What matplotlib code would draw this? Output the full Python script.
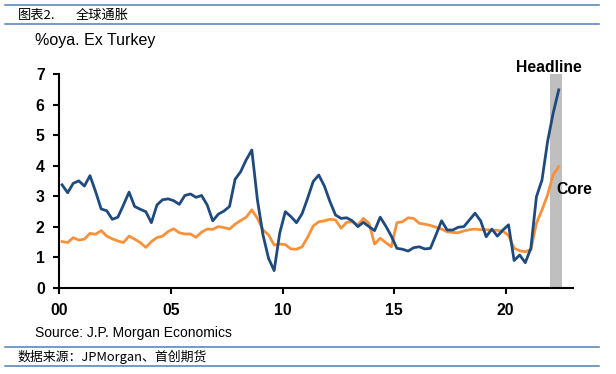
import numpy as np
import pandas as pd
import matplotlib
matplotlib.use("Agg")
import matplotlib.pyplot as plt
from matplotlib.lines import Line2D

# global inflation, %oya ex Turkey, quarterly 2000Q1 - 2022Q2
quarters = pd.period_range("2000Q1", "2022Q2", freq="Q")
headline = [3.38, 3.12, 3.43, 3.51, 3.34, 3.68, 3.16, 2.59, 2.53, 2.25,
            2.32, 2.72, 3.14, 2.67, 2.58, 2.50, 2.14, 2.72, 2.89, 2.92,
            2.86, 2.74, 3.03, 3.08, 2.97, 3.03, 2.72, 2.20, 2.42, 2.52,
            2.67, 3.56, 3.81, 4.20, 4.52, 2.89, 1.74, 0.97, 0.57, 1.80,
            2.50, 2.34, 2.14, 2.43, 2.94, 3.49, 3.70, 3.34, 2.83, 2.39,
            2.28, 2.30, 2.20, 2.01, 2.15, 2.01, 1.88, 2.32, 2.03, 1.70,
            1.30, 1.27, 1.21, 1.32, 1.35, 1.28, 1.30, 1.74, 2.20, 1.90,
            1.90, 1.99, 2.01, 2.23, 2.45, 2.20, 1.68, 1.93, 1.70, 1.90,
            2.07, 0.90, 1.08, 0.83, 1.30, 2.99, 3.54, 4.80, 5.73, 6.49]
core = [1.52, 1.49, 1.65, 1.57, 1.60, 1.79, 1.76, 1.88, 1.70, 1.61,
        1.54, 1.49, 1.70, 1.60, 1.49, 1.33, 1.52, 1.65, 1.70, 1.85,
        1.94, 1.81, 1.77, 1.77, 1.66, 1.83, 1.93, 1.92, 2.01, 1.98,
        1.93, 2.09, 2.21, 2.32, 2.56, 2.28, 1.90, 1.74, 1.41, 1.44,
        1.42, 1.28, 1.27, 1.35, 1.66, 2.03, 2.17, 2.20, 2.25, 2.23,
        1.96, 2.15, 2.17, 2.07, 2.28, 2.12, 1.44, 1.63, 1.49, 1.35,
        2.14, 2.17, 2.30, 2.28, 2.12, 2.09, 2.05, 1.99, 1.93, 1.84,
        1.82, 1.81, 1.87, 1.91, 1.93, 1.91, 1.91, 1.89, 1.89, 1.86,
        1.72, 1.30, 1.22, 1.19, 1.25, 2.12, 2.56, 3.05, 3.70, 3.98]
xticks = [0, 5, 10, 15, 20]
xtick_labels = ["00", "05", "10", "15", "20"]
band = (22.0, 22.5)  # shaded forecast period

x = (quarters.year - 2000) + (quarters.quarter - 1) / 4 + 0.125

W, H = 616, 374
fig = plt.figure(figsize=(W / 100, H / 100), dpi=100)
cjk = ["Noto Sans CJK SC", "DejaVu Sans"]
sans = ["Liberation Sans", "DejaVu Sans"]


def px(xp, yp):  # pixel coords -> figure fraction
    return xp / W, 1 - yp / H


# frame lines of the report template
rule_col = "#4F7FBA"
for yp in [5, 24, 346.5, 365.5]:
    fig.add_artist(Line2D([5 / W, 599 / W], [1 - yp / H] * 2, color=rule_col, lw=1.1))

fig.text(*px(18, 15), "图表2.", family=cjk, fontsize=9.5, va="center", ha="left")
fig.text(*px(76, 15), "全球通胀", family=cjk, fontsize=9.5, va="center", ha="left")
fig.text(*px(35, 40), "%oya. Ex Turkey", family=sans, fontsize=11.5, va="center", ha="left")
fig.text(*px(35, 333), "Source: J.P. Morgan Economics", family=sans, fontsize=10,
         va="center", ha="left")
fig.text(*px(17, 357), "数据来源：JPMorgan、首创期货", family=cjk, fontsize=9.3,
         va="center", ha="left")

ax = fig.add_axes([59.3 / W, 1 - 288 / H, (572.7 - 59.3) / W, (288 - 74.3) / H])
ax.axvspan(band[0], band[1], color="#BFBFBF", lw=0, zorder=0)
ax.plot(x, headline, color="#1F4A7E", lw=2.0, zorder=3)
ax.plot(x, core, color="#F7923A", lw=2.0, zorder=2)

ax.set_xlim(0, 23)
ax.set_ylim(0, 7)
ax.set_xticks(xticks)
ax.set_xticklabels(xtick_labels)
ax.set_yticks(range(8))
for s in ["top", "right"]:
    ax.spines[s].set_visible(False)
for s in ["left", "bottom"]:
    ax.spines[s].set_linewidth(1.5)
ax.tick_params(direction="out", length=4.5, width=1.5, pad=6, labelsize=11.3)
for lab in ax.get_xticklabels() + ax.get_yticklabels():
    lab.set_fontweight("bold")
    lab.set_family(sans)

fig.text(*px(548.5, 67), "Headline", family=sans, fontsize=11.3, fontweight="bold",
         ha="center", va="center")
fig.text(*px(556, 190), "Core", family=sans, fontsize=11.3, fontweight="bold",
         ha="left", va="center")

fig.savefig("out.png", dpi=100)
